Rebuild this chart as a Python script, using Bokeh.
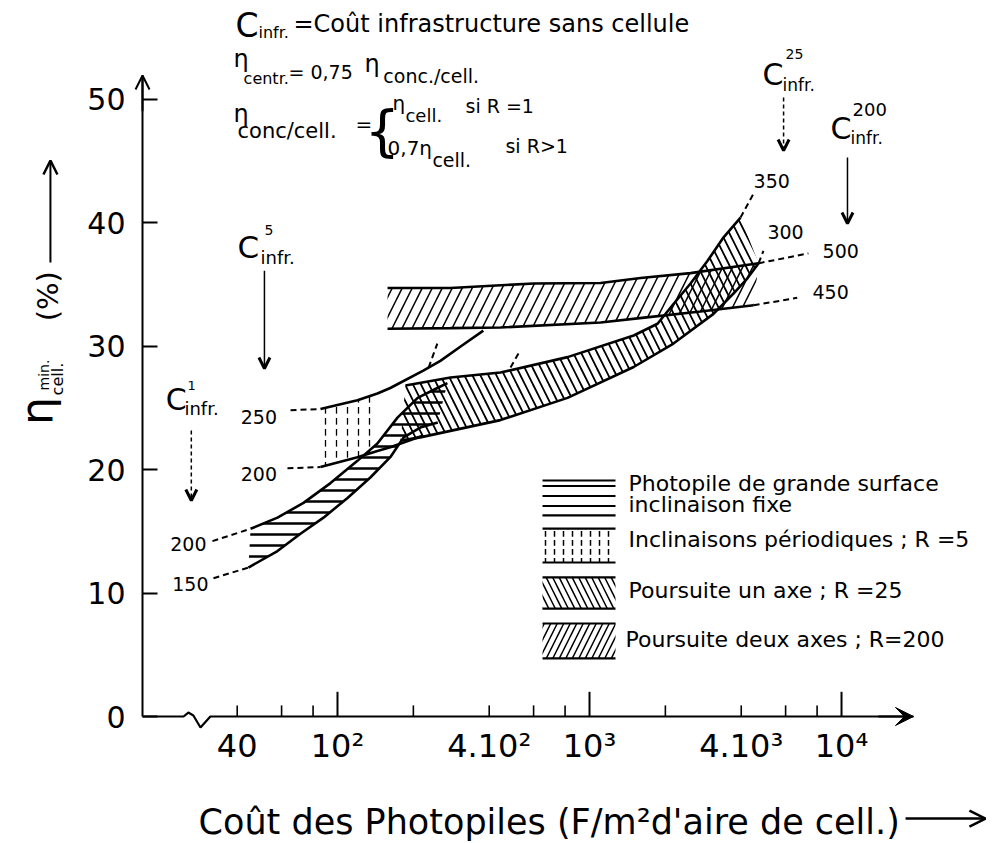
import numpy as np
from bokeh.plotting import figure
from bokeh.models import Range1d, FixedTicker, Arrow, OpenHead, VeeHead, ColumnDataSource
from bokeh.core.properties import value
from bokeh.embed import file_html
from bokeh.resources import INLINE

FONT = "DejaVu Sans"

# ---------------- axes data ----------------
x_major_ticks = [100, 1000, 10000]
x_minor_ticks = [40, 60, 80, 200, 400, 600, 800, 2000, 4000, 6000, 8000]
x_label_ticks = [40, 100, 400, 1000, 4000, 10000]
x_tick_labels = ["40", "10²", "4.10²", "10³", "4.10³", "10⁴"]
y_ticks = [0, 10, 20, 30, 40, 50]

# ---------------- curves (x: F/m², y: %) ----------------
# Inclinaison fixe (R = 1): C_infr^1 = 200 (haut) et 150 (bas)
fix200_x = [45.2, 57.8, 73.3, 93.8, 120, 144, 173, 208, 249, 273]
fix200_y = [15.2, 16.1, 17.3, 18.9, 20.7, 22.1, 24.2, 25.8, 26.6, 27.0]
fix200_dash_x = [31.9, 45.2]
fix200_dash_y = [14.2, 15.2]
fix150_x = [44.3, 57.8, 71.3, 88.0, 109.6, 135, 162, 183, 213, 250]
fix150_y = [12.06, 13.4, 14.8, 16.1, 17.7, 19.35, 21.0, 22.6, 23.4, 23.8]
fix150_dash_x = [32.2, 44.3]
fix150_dash_y = [11.2, 12.06]

# Inclinaisons periodiques (R = 5): C_infr^5 = 250 (haut) et 200 (bas)
per250_x = [85.6, 120, 144, 162, 219, 256, 310, 379]
per250_y = [24.9, 25.6, 26.15, 26.6, 28.0, 28.8, 30.0, 31.25]
per250_dash_x = [65.1, 85.6]
per250_dash_y = [24.8, 24.9]
per200_x = [85.6, 120, 144, 162, 219]
per200_y = [20.2, 21.0, 21.5, 21.8, 22.75]
per200_dash_x = [63.3, 85.6]
per200_dash_y = [20.1, 20.2]

# Poursuite un axe (R = 25): C_infr^25 = 350 (haut) et 300 (bas)
one350_x = [186, 281, 443, 818, 1497, 1862, 2154, 2517, 2941, 3404, 3974]
one350_y = [26.8, 27.45, 27.85, 29.1, 30.85, 31.8, 33.4, 35.06, 36.9, 38.8, 40.4]
one350_dash_x = [3974, 4479]
one350_dash_y = [40.4, 42.35]
one300_x = [178, 213, 443, 818, 1497, 2154, 3105, 3727, 4240, 4688]
one300_y = [22.35, 22.6, 24.0, 25.8, 28.3, 30.2, 32.6, 34.25, 35.5, 36.7]
one300_dash_x = [4688, 4900]
one300_dash_y = [36.7, 37.7]

# Poursuite deux axes (R = 200): C_infr^200 = 500 (haut) et 450 (bas)
two500_x = [158, 281, 600, 1107, 1594, 2517, 4688]
two500_y = [34.7, 34.7, 35.06, 35.1, 35.5, 35.9, 36.7]
two500_dash_x = [4688, 7390]
two500_dash_y = [36.7, 37.5]
two450_x = [158, 281, 443, 1107, 1650, 2757, 4479]
two450_y = [31.4, 31.45, 31.5, 31.9, 32.3, 32.8, 33.3]
two450_dash_x = [4479, 6670]
two450_dash_y = [33.3, 33.9]

# short dashed continuations between the bands
stub1_x = [230, 249]
stub1_y = [28.26, 30.2]
stub2_x = [486, 523]
stub2_y = [28.26, 29.4]

# ---------------- figure (frame = whole canvas, axes at fixed locations) ----------------
W, H = 992, 843
x_start, x_end = 4.6003, 39729.0
y_start, y_end = -10.283, 57.976
x_origin = 16.84          # where the vertical axis stands
x_axis_end = 19300        # tip of the horizontal axis arrow
y_axis_end = 51.9         # tip of the vertical axis arrow
ppu_y = H / (y_end - y_start)                         # px per % unit
ppd_x = W / (np.log10(x_end) - np.log10(x_start))     # px per decade

p = figure(width=W, height=H, x_axis_type="log",
           x_range=Range1d(x_start, x_end), y_range=Range1d(y_start, y_end),
           output_backend="svg", toolbar_location=None, min_border=0)
p.outline_line_color = None
p.grid.visible = False
p.background_fill_color = "white"
p.border_fill_color = "white"

ya = p.yaxis[0]
ya.fixed_location = x_origin
ya.ticker = FixedTicker(ticks=y_ticks)
ya.bounds = (0, y_axis_end)
ya.axis_line_width = 2
ya.axis_line_color = "black"
ya.major_tick_in = 15
ya.major_tick_out = 0
ya.major_tick_line_width = 2
ya.minor_tick_line_color = None
ya.major_label_text_font = FONT
ya.major_label_text_font_size = "30px"
ya.major_label_standoff = 17
ya.major_label_text_color = "black"

xa = p.xaxis[0]
xa.fixed_location = 0
xa.ticker = FixedTicker(ticks=x_label_ticks, minor_ticks=[])
xa.major_label_overrides = {float(t): s for t, s in zip(x_label_ticks, x_tick_labels)}
xa.axis_line_color = None
xa.major_tick_line_color = None
xa.minor_tick_line_color = None
xa.major_label_text_font = FONT
xa.major_label_text_font_size = "32px"
xa.major_label_standoff = 4
xa.major_label_text_color = "black"

# x baseline with axis break, drawn ticks
p.line([x_origin, 24.5, 25.6, 26.8, 28.6, 31.3, x_axis_end], [0, 0, 0.32, 0.08, -0.89, 0, 0],
       line_width=2.2, color="black")
p.segment(x0=x_major_ticks, y0=[0] * len(x_major_ticks), x1=x_major_ticks,
          y1=[2.0] * len(x_major_ticks), line_width=2, color="black")
p.segment(x0=x_minor_ticks, y0=[0] * len(x_minor_ticks), x1=x_minor_ticks,
          y1=[0.9] * len(x_minor_ticks), line_width=1.6, color="black")
p.add_layout(Arrow(end=VeeHead(size=18, fill_color="black", line_color="black"),
                   x_start=14000, y_start=0, x_end=x_axis_end, y_end=0, line_width=2.2))
p.add_layout(Arrow(end=OpenHead(size=14, line_width=2), x_start=x_origin, y_start=49,
                   x_end=x_origin, y_end=y_axis_end, line_width=2))

# ---------------- hatched bands ----------------
def band(ux, uy, lx, ly, pattern, scale, weight):
    p.patch(list(ux) + list(lx)[::-1], list(uy) + list(ly)[::-1],
            fill_color=None, line_color=None, hatch_pattern=pattern,
            hatch_scale=scale, hatch_weight=weight, hatch_color="black")

band(fix200_x, fix200_y, fix150_x, fix150_y, "horizontal_line", 11, 2.5)
band(per250_x[:3], per250_y[:3], per200_x[:3], per200_y[:3], "vertical_dash", 11, 1.3)
band(one350_x, one350_y, one300_x, one300_y, "left_diagonal_line", 16, 1.8)
band(two500_x, two500_y, two450_x, two450_y, "right_diagonal_line", 20, 1.5)

# ---------------- curves ----------------
for xs, ys in [(fix200_x, fix200_y), (fix150_x, fix150_y), (per250_x, per250_y),
               (per200_x, per200_y), (one350_x, one350_y), (one300_x, one300_y),
               (two500_x, two500_y), (two450_x, two450_y)]:
    p.line(xs, ys, line_width=2.6, color="black")

for xs, ys in [(fix200_dash_x, fix200_dash_y), (fix150_dash_x, fix150_dash_y),
               (per250_dash_x, per250_dash_y), (per200_dash_x, per200_dash_y),
               (one350_dash_x, one350_dash_y), (one300_dash_x, one300_dash_y),
               (two500_dash_x, two500_dash_y), (two450_dash_x, two450_dash_y),
               (stub1_x, stub1_y), (stub2_x, stub2_y)]:
    p.line(xs, ys, line_width=2, line_dash="6 4", color="black")

# ---------------- legend (hand-drawn style) ----------------
leg_left, leg_right = 651, 1268
leg_boxes = [(19.11, 16.28, "horizontal_line"), (15.22, 12.47, "vertical_dash"),
             (11.26, 8.74, "left_diagonal_line"), (7.53, 4.70, "right_diagonal_line")]
for top, bot, pat in leg_boxes:
    p.quad(left=[leg_left], right=[leg_right], top=[top], bottom=[bot], fill_color=None,
           line_color=None, hatch_pattern=pat,
           hatch_scale={"horizontal_line": 10, "vertical_dash": 9}.get(pat, 13),
           hatch_weight=2 if pat == "horizontal_line" else 1.5, hatch_color="black")
    p.segment(x0=[leg_left, leg_left], y0=[top, bot], x1=[leg_right, leg_right], y1=[top, bot],
              line_width=2.2, color="black")

# ---------------- texts (anchor = left end of the baseline, size in px) ----------------
texts = [
    ("C", 39.4, 54.98, 33), ("infr.", 48.6, 54.9, 16),
    ("=Coût infrastructure sans cellule", 66.9, 55.4, 24),
    ("η", 38.7, 52.55, 24), ("centr.", 42.4, 51.17, 16),
    ("= 0,75", 63.9, 51.66, 19), ("η", 128, 52.15, 24),
    ("conc./cell.", 152, 51.34, 19),
    ("η", 38.7, 48.1, 24), ("conc/cell.", 40.1, 46.8, 21),
    ("=", 117.8, 47.37, 20), ("{", 128, 45.83, 56),
    ("η", 165.3, 49.07, 20), ("cell.", 186, 48.18, 18),
    ("si  R =1", 322, 48.9, 19),
    ("0,7η", 158, 45.43, 20), ("cell.", 238, 44.53, 19),
    ("si  R>1", 464, 45.67, 19),
    ("C", 20.8, 24.78, 30), ("1", 25.4, 26.4, 13), ("infr.", 24.7, 24.45, 18),
    ("C", 40.1, 37.17, 31), ("5", 51.3, 39.03, 14), ("infr.", 49.5, 36.68, 18),
    ("C", 4860, 51.17, 30), ("25", 5998, 53.28, 14), ("infr.", 5834, 50.69, 17),
    ("C", 9040, 46.8, 30), ("200", 11060, 48.66, 18), ("infr.", 10860, 46.4, 17),
    ("200", 21.7, 13.44, 19), ("150", 22.1, 10.2, 19),
    ("250", 41.3, 23.72, 19), ("200", 41.3, 19.11, 19),
    ("350", 4479, 42.83, 19), ("300", 5080, 38.7, 19),
    ("500", 8410, 37.17, 19), ("450", 7670, 33.85, 19),
    ("Photopile de grande surface", 1428, 18.22, 22),
    ("inclinaison fixe", 1428, 16.52, 22),
    ("Inclinaisons périodiques ; R =5", 1428, 13.68, 22),
    ("Poursuite un axe ; R =25", 1428, 9.55, 22),
    ("Poursuite deux axes ; R=200", 1390, 5.59, 22),
    ("Coût des Photopiles (F/m²d'aire de cell.)", 28.1, -9.55, 35),
]
# vertical axis title, rotated (reads upward)
vtexts = [("η", 7.33, 23.6, 44), ("min.", 7.13, 26.4, 14),
          ("cell.", 8.18, 26.0, 16), ("(%)", 7.81, 32.0, 29)]

MID = 0.35  # baseline -> middle of the em box, in em
src = ColumnDataSource(dict(
    text=[t[0] for t in texts], x=[t[1] for t in texts],
    y=[t[2] + MID * t[3] / ppu_y for t in texts],
    size=["%dpx" % t[3] for t in texts]))
p.text(x="x", y="y", text="text", source=src, text_font=value(FONT),
       text_font_size="size", text_baseline="middle", text_align="left",
       text_color="black")

vsrc = ColumnDataSource(dict(
    text=[t[0] for t in vtexts],
    x=[t[1] * 10 ** (-MID * t[3] / ppd_x) for t in vtexts],
    y=[t[2] for t in vtexts], size=["%dpx" % t[3] for t in vtexts]))
p.text(x="x", y="y", text="text", source=vsrc, angle=np.pi / 2, text_font=value(FONT),
       text_font_size="size", text_baseline="middle", text_align="left",
       text_color="black")

# arrows under the C_infr labels
for xa_, y0, y1, dash in [(26.3, 23.16, 17.49, "4 3"), (51.3, 36.1, 28.18, "solid"),
                          (5890, 50.12, 45.83, "4 3"), (10560, 45.26, 39.92, "solid")]:
    p.add_layout(Arrow(end=OpenHead(size=11, line_width=3), x_start=xa_, y_start=y0,
                       x_end=xa_, y_end=y1, line_width=1.5, line_dash=dash))

# arrows of the axis titles
p.add_layout(Arrow(end=OpenHead(size=16, line_width=2.5), x_start=17950, y_start=-8.26,
                   x_end=37250, y_end=-8.26, line_width=2.5))
p.add_layout(Arrow(end=OpenHead(size=14, line_width=2.5), x_start=7.26, y_start=36.76,
                   x_end=7.26, y_end=45.02, line_width=2))

open("out.html", "w").write(file_html(p, INLINE))
